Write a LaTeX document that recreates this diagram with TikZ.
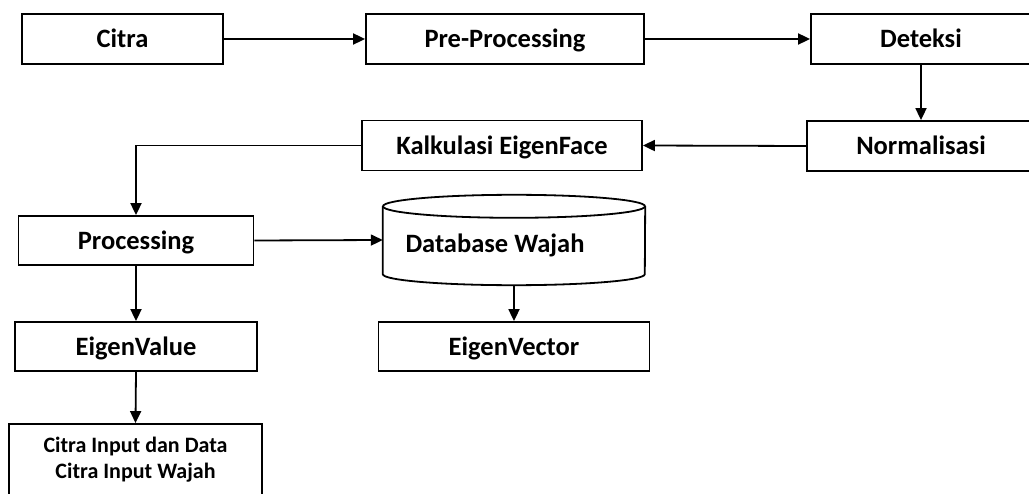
\documentclass[tikz,border=0pt]{standalone}
\usepackage{fontspec}
\setmainfont{Carlito}
\usetikzlibrary{arrows.meta}
\begin{document}
\begin{tikzpicture}[x=1pt,y=-1pt,
  box/.style={draw, line width=1.8pt, rectangle, inner sep=0pt, minimum height=50pt,
    text height=20pt, text depth=2pt,
    font=\bfseries\fontsize{26.5}{30}\selectfont},
  smallbox/.style={draw, line width=1.8pt, rectangle, inner sep=0pt, align=center,
    font=\bfseries\fontsize{22}{26}\selectfont},
  arr/.style={line width=1.8pt, -{Triangle[length=12pt,width=11pt]}},
  ln/.style={line width=1.8pt},
  lbl/.style={inner sep=0pt, font=\bfseries\fontsize{26.5}{30}\selectfont}]
\useasboundingbox (0,0) rectangle (1029,494);
\clip (0,0) rectangle (1029,494);
% row 1
\node[box, minimum width=201pt] (citra) at (122.5,39) {Citra};
\node[box, minimum width=278pt] (pre) at (505,39) {Pre-Processing};
\node[box, minimum width=220pt] (det) at (921,39) {Deteksi};
% row 2
\node[box, minimum width=228pt] (norm) at (921,146) {Normalisasi};
\node[box, minimum width=280pt] (kalk) at (502,145.5) {Kalkulasi EigenFace};
% row 3
\node[box, minimum width=235pt, minimum height=49pt] (proc) at (136,240.5) {Processing};
\node[inner sep=0pt, minimum width=262pt, minimum height=90pt] (db) at (514,240) {};
\node[lbl] (dbl) at (495,245) {Database Wajah};
% cylinder
\draw[ln] ([yshift=-11.5pt]db.north west) -- ([yshift=11pt]db.south west)
  arc[start angle=180, end angle=360, x radius=131pt, y radius=11pt]
  -- ([yshift=-11.5pt]db.north east);
\draw[ln] ([yshift=-11.5pt]db.north) ellipse[x radius=131pt, y radius=11.5pt];
% row 4
\node[box, minimum width=242pt, minimum height=49pt] (eigval) at (136,346.5) {EigenValue};
\node[box, minimum width=271pt, minimum height=49pt] (eigvec) at (514,346.5) {EigenVector};
% row 5
\node[smallbox, minimum width=253pt, minimum height=72pt] (out) at (135.5,460) {Citra Input dan Data\\Citra Input Wajah};
% connectors
\draw[arr] (citra.east) -- (pre.west);
\draw[arr] (pre.east) -- (det.west);
\draw[arr] (det.south) -- (norm.north);
\draw[arr] (norm.west) -- (kalk.east);
\draw[arr] (kalk.west) -| (proc.north);
\draw[arr] (proc.east) -- (db.west);
\draw[arr] (db.south) -- (eigvec.north);
\draw[arr] (proc.south) -- (eigval.north);
\draw[arr] (eigval.south) -- (out.north);
\end{tikzpicture}
\end{document}
